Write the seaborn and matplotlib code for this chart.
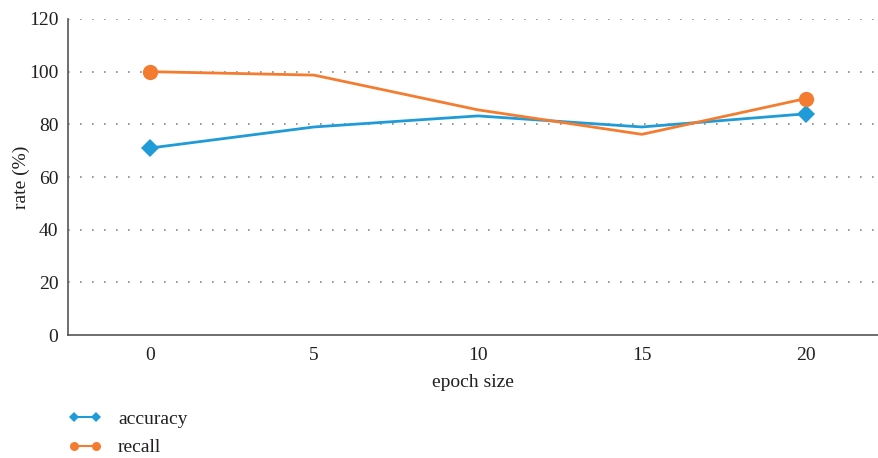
import matplotlib
matplotlib.use("Agg")
import matplotlib.pyplot as plt
from matplotlib.lines import Line2D
import pandas as pd
import seaborn as sns

epochs = [0, 5, 10, 15, 20]
accuracy = [71, 79, 83.2, 79, 84]
recall = [100, 98.7, 85.5, 76.2, 89.8]
y_ticks = [0, 20, 40, 60, 80, 100, 120]

blue = "#1f9bd7"
orange = "#f47c30"
text_color = "#231f20"

sns.set_theme(style="white")
plt.rcParams["font.family"] = ["Liberation Serif", "DejaVu Serif"]

df = pd.DataFrame({"epoch": epochs, "accuracy": accuracy, "recall": recall})

fig = plt.figure(figsize=(8.79, 4.58), dpi=100)
ax = fig.add_axes([68 / 879, 1 - 335 / 458, (878 - 68) / 879, (335 - 19) / 458])

sns.lineplot(data=df, x="epoch", y="accuracy", ax=ax, color=blue, linewidth=2.0,
             marker="D", markersize=9, markevery=[0, 4], markeredgewidth=0)
sns.lineplot(data=df, x="epoch", y="recall", ax=ax, color=orange, linewidth=2.0,
             marker="o", markersize=11, markevery=[0, 4], markeredgewidth=0)

ax.set_xlim(-2.5, 22.2)
ax.set_ylim(0, 120)
ax.set_xticks(epochs)
ax.set_yticks(y_ticks)
ax.tick_params(axis="y", length=0, labelsize=14, colors=text_color, pad=7)
ax.tick_params(axis="x", length=0, labelsize=14, colors=text_color, pad=9)

# dotted horizontal guides above the baseline
for y in y_ticks[1:]:
    ax.axhline(y, color="#8a8a8a", linestyle=(0, (1, 6.2)), linewidth=1.2, zorder=0)

for side in ["top", "right"]:
    ax.spines[side].set_visible(False)
for side in ["left", "bottom"]:
    ax.spines[side].set_color("#555555")
    ax.spines[side].set_linewidth(1.2)

ax.set_xlabel("epoch size", fontsize=14, color=text_color, labelpad=7)
ax.set_ylabel("rate (%)", fontsize=14, color=text_color, labelpad=-1)

handles = [
    Line2D([0], [0], color=blue, linewidth=1.5, marker="D", markersize=5, markeredgewidth=0),
    Line2D([0], [0], color=orange, linewidth=1.5, marker="o", markersize=6.5, markeredgewidth=0),
]
fig.legend(handles, ["accuracy", "recall"], loc="upper left",
           bbox_to_anchor=(51 / 879, 1 - 393 / 458), frameon=False, numpoints=2,
           fontsize=14, handlelength=1.7, labelspacing=0.55, handletextpad=0.85,
           labelcolor=text_color)

fig.savefig("out.png", dpi=100)
